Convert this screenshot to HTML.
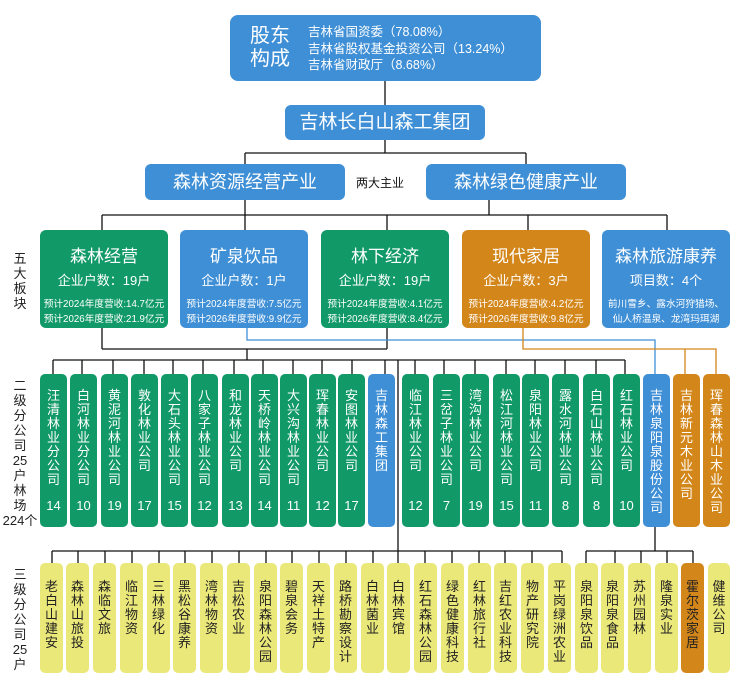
<!DOCTYPE html>
<html><head><meta charset="utf-8"><style>
body{margin:0;background:#fff;}
#c{position:relative;width:730px;height:691px;overflow:hidden;font-family:"Liberation Sans","Noto Sans CJK SC",sans-serif;}
.b{position:absolute;border-radius:6px;color:#fff;box-sizing:border-box;text-align:center;}
.bl{background:#3f8fd6;}.gr{background:#119a68;}.or{background:#d3861a;}.ye{background:#ebe87a;color:#222;}
.v{position:absolute;top:374px;width:27px;height:153px;border-radius:5px;color:#fff;font-size:13px;line-height:14px;text-align:center;}
.v span{display:block;width:14px;margin:15px auto 0;word-break:break-all;}
.v i{position:absolute;left:0;right:0;top:125px;font-style:normal;font-size:13px;}
.y{position:absolute;top:563px;width:23px;height:110px;border-radius:5px;background:#ebe87a;color:#222;font-size:13px;line-height:14px;text-align:center;}
.y span{display:block;width:14px;margin:17px auto 0;word-break:break-all;}
.lab{position:absolute;width:14px;font-size:13px;line-height:15px;color:#222;text-align:center;word-break:break-all;}
.big{font-size:17px;}
.sm{font-size:9.7px;line-height:15px;margin-top:8px;white-space:nowrap;}
svg{position:absolute;left:0;top:0;}
</style></head><body><div id="c">
<svg width="730" height="691" fill="none" stroke-width="1.3">
<g stroke="#111">
<line x1="385" y1="81" x2="385" y2="105"/>
<line x1="385" y1="140" x2="385" y2="153"/>
<line x1="245" y1="153" x2="526" y2="153"/>
<line x1="245" y1="153" x2="245" y2="164"/><line x1="526" y1="153" x2="526" y2="164"/>
<line x1="245" y1="200" x2="245" y2="215"/><line x1="489" y1="200" x2="489" y2="215"/>
<line x1="102" y1="215" x2="667" y2="215"/>
<line x1="102" y1="215" x2="102" y2="230"/><line x1="245" y1="215" x2="245" y2="230"/><line x1="387" y1="215" x2="387" y2="230"/><line x1="528" y1="215" x2="528" y2="230"/><line x1="667" y1="215" x2="667" y2="230"/>
<line x1="102" y1="328" x2="102" y2="349"/><line x1="387" y1="328" x2="387" y2="349"/>
<line x1="102" y1="349" x2="387" y2="349"/>
<line x1="247" y1="349" x2="247" y2="360"/>
<line x1="53" y1="360" x2="625" y2="360"/>
<line x1="53" y1="360" x2="53" y2="374"/><line x1="82" y1="360" x2="82" y2="374"/><line x1="113" y1="360" x2="113" y2="374"/><line x1="144" y1="360" x2="144" y2="374"/><line x1="173" y1="360" x2="173" y2="374"/><line x1="203" y1="360" x2="203" y2="374"/><line x1="234" y1="360" x2="234" y2="374"/><line x1="263" y1="360" x2="263" y2="374"/><line x1="293" y1="360" x2="293" y2="374"/><line x1="322" y1="360" x2="322" y2="374"/><line x1="352" y1="360" x2="352" y2="374"/><line x1="385" y1="360" x2="385" y2="374"/><line x1="415" y1="360" x2="415" y2="374"/><line x1="444" y1="360" x2="444" y2="374"/><line x1="475" y1="360" x2="475" y2="374"/><line x1="506" y1="360" x2="506" y2="374"/><line x1="535" y1="360" x2="535" y2="374"/><line x1="565" y1="360" x2="565" y2="374"/><line x1="596" y1="360" x2="596" y2="374"/><line x1="625" y1="360" x2="625" y2="374"/>
<line x1="398" y1="360" x2="398" y2="551"/>
<line x1="52" y1="551" x2="562" y2="551"/>
<line x1="52" y1="551" x2="52" y2="563"/><line x1="78" y1="551" x2="78" y2="563"/><line x1="105" y1="551" x2="105" y2="563"/><line x1="132" y1="551" x2="132" y2="563"/><line x1="159" y1="551" x2="159" y2="563"/><line x1="185" y1="551" x2="185" y2="563"/><line x1="212" y1="551" x2="212" y2="563"/><line x1="239" y1="551" x2="239" y2="563"/><line x1="266" y1="551" x2="266" y2="563"/><line x1="292" y1="551" x2="292" y2="563"/><line x1="319" y1="551" x2="319" y2="563"/><line x1="346" y1="551" x2="346" y2="563"/><line x1="373" y1="551" x2="373" y2="563"/><line x1="398" y1="551" x2="398" y2="563"/><line x1="425" y1="551" x2="425" y2="563"/><line x1="452" y1="551" x2="452" y2="563"/><line x1="479" y1="551" x2="479" y2="563"/><line x1="505" y1="551" x2="505" y2="563"/><line x1="532" y1="551" x2="532" y2="563"/><line x1="562" y1="551" x2="562" y2="563"/>
<line x1="655" y1="527" x2="655" y2="551"/>
<line x1="586" y1="551" x2="693" y2="551"/>
<line x1="586" y1="551" x2="586" y2="563"/><line x1="615" y1="551" x2="615" y2="563"/><line x1="641" y1="551" x2="641" y2="563"/><line x1="667" y1="551" x2="667" y2="563"/><line x1="693" y1="551" x2="693" y2="563"/>
</g>
<polyline stroke="#3f8fd6" points="247,328 247,340 655,340 655,374"/>
<polyline stroke="#d3861a" points="523,328 523,349 716,349 716,374"/>
<line stroke="#d3861a" x1="685" y1="349" x2="685" y2="374"/>
</svg>

<div class="b bl" style="left:230px;top:15px;width:311px;height:66px;border-radius:8px;">
 <div style="position:absolute;left:18px;top:10px;font-size:20px;line-height:23px;width:44px;">股东<br>构成</div>
 <div style="position:absolute;left:78px;top:9px;font-size:12.5px;line-height:16.5px;text-align:left;white-space:nowrap;">吉林省国资委（78.08%）<br>吉林省股权基金投资公司（13.24%）<br>吉林省财政厅（8.68%）</div>
</div>
<div class="b bl" style="left:285px;top:105px;width:200px;height:35px;font-size:19px;line-height:35px;">吉林长白山森工集团</div>
<div class="b bl" style="left:145px;top:164px;width:200px;height:36px;font-size:18px;line-height:36px;">森林资源经营产业</div>
<div class="b bl" style="left:426px;top:164px;width:200px;height:36px;font-size:18px;line-height:36px;">森林绿色健康产业</div>
<div style="position:absolute;left:356px;top:174px;font-size:12px;color:#111;">两大主业</div>

<div class="b gr" style="left:40px;top:230px;width:128px;height:98px;"><div class="big" style="margin-top:12px;">森林经营</div><div style="font-size:13px;margin-top:3px;">企业户数：19户</div><div class="sm">预计2024年度营收:14.7亿元<br>预计2026年度营收:21.9亿元</div></div>
<div class="b bl" style="left:180px;top:230px;width:128px;height:98px;"><div class="big" style="margin-top:12px;">矿泉饮品</div><div style="font-size:13px;margin-top:3px;">企业户数：1户</div><div class="sm">预计2024年度营收:7.5亿元<br>预计2026年度营收:9.9亿元</div></div>
<div class="b gr" style="left:321px;top:230px;width:128px;height:98px;"><div class="big" style="margin-top:12px;">林下经济</div><div style="font-size:13px;margin-top:3px;">企业户数：19户</div><div class="sm">预计2024年度营收:4.1亿元<br>预计2026年度营收:8.4亿元</div></div>
<div class="b or" style="left:462px;top:230px;width:128px;height:98px;"><div class="big" style="margin-top:12px;">现代家居</div><div style="font-size:13px;margin-top:3px;">企业户数：3户</div><div class="sm">预计2024年度营收:4.2亿元<br>预计2026年度营收:9.8亿元</div></div>
<div class="b bl" style="left:602px;top:230px;width:128px;height:98px;"><div class="big" style="margin-top:12px;">森林旅游康养</div><div style="font-size:13px;margin-top:3px;">项目数：4个</div><div class="sm">前川雪乡、露水河狩猎场、<br>仙人桥温泉、龙湾玛珥湖</div></div>

<div class="lab" style="left:13px;top:251px;">五大板块</div>
<div class="lab" style="left:13px;top:378px;">二级分公司</div>
<div style="position:absolute;left:0;top:453px;width:40px;text-align:center;font-size:13px;line-height:15px;color:#222;">25<br>户<br>林<br>场<br>224个</div>
<div class="lab" style="left:13px;top:567px;">三级分公司</div>
<div style="position:absolute;left:0;top:642px;width:40px;text-align:center;font-size:13px;line-height:15px;color:#222;">25<br>户</div>

<div class="v gr" style="left:40px"><span>汪清林业分公司</span><i>14</i></div>
<div class="v gr" style="left:70px"><span>白河林业分公司</span><i>10</i></div>
<div class="v gr" style="left:101px"><span>黄泥河林业公司</span><i>19</i></div>
<div class="v gr" style="left:131px"><span>敦化林业公司</span><i>17</i></div>
<div class="v gr" style="left:161px"><span>大石头林业公司</span><i>15</i></div>
<div class="v gr" style="left:191px"><span>八家子林业公司</span><i>12</i></div>
<div class="v gr" style="left:222px"><span>和龙林业公司</span><i>13</i></div>
<div class="v gr" style="left:251px"><span>天桥岭林业公司</span><i>14</i></div>
<div class="v gr" style="left:280px"><span>大兴沟林业公司</span><i>11</i></div>
<div class="v gr" style="left:309px"><span>珲春林业公司</span><i>12</i></div>
<div class="v gr" style="left:338px"><span>安图林业公司</span><i>17</i></div>
<div class="v bl" style="left:368px"><span>吉林森工集团</span></div>
<div class="v gr" style="left:402px"><span>临江林业公司</span><i>12</i></div>
<div class="v gr" style="left:433px"><span>三岔子林业公司</span><i>7</i></div>
<div class="v gr" style="left:462px"><span>湾沟林业公司</span><i>19</i></div>
<div class="v gr" style="left:493px"><span>松江河林业公司</span><i>15</i></div>
<div class="v gr" style="left:522px"><span>泉阳林业公司</span><i>11</i></div>
<div class="v gr" style="left:552px"><span>露水河林业公司</span><i>8</i></div>
<div class="v gr" style="left:583px"><span>白石山林业公司</span><i>8</i></div>
<div class="v gr" style="left:613px"><span>红石林业公司</span><i>10</i></div>
<div class="v bl" style="left:643px"><span>吉林泉阳泉股份公司</span></div>
<div class="v or" style="left:673px"><span>吉林新元木业公司</span></div>
<div class="v or" style="left:703px"><span>珲春森林山木业公司</span></div>

<div class="y" style="left:40px"><span>老白山建安</span></div>
<div class="y" style="left:66px"><span>森林山旅投</span></div>
<div class="y" style="left:93px"><span>森临文旅</span></div>
<div class="y" style="left:120px"><span>临江物资</span></div>
<div class="y" style="left:147px"><span>三林绿化</span></div>
<div class="y" style="left:173px"><span>黑松谷康养</span></div>
<div class="y" style="left:200px"><span>湾林物资</span></div>
<div class="y" style="left:227px"><span>吉松农业</span></div>
<div class="y" style="left:254px"><span>泉阳森林公园</span></div>
<div class="y" style="left:280px"><span>碧泉会务</span></div>
<div class="y" style="left:307px"><span>天祥土特产</span></div>
<div class="y" style="left:334px"><span>路桥勘察设计</span></div>
<div class="y" style="left:361px"><span>白林菌业</span></div>
<div class="y" style="left:387px"><span>白林宾馆</span></div>
<div class="y" style="left:414px"><span>红石森林公园</span></div>
<div class="y" style="left:441px"><span>绿色健康科技</span></div>
<div class="y" style="left:468px"><span>红林旅行社</span></div>
<div class="y" style="left:494px"><span>吉红农业科技</span></div>
<div class="y" style="left:521px"><span>物产研究院</span></div>
<div class="y" style="left:548px"><span>平岗绿洲农业</span></div>
<div class="y" style="left:575px"><span>泉阳泉饮品</span></div>
<div class="y" style="left:601px"><span>泉阳泉食品</span></div>
<div class="y" style="left:628px"><span>苏州园林</span></div>
<div class="y" style="left:655px"><span>隆泉实业</span></div>
<div class="y" style="left:681px;background:#d3861a;"><span>霍尔茨家居</span></div>
<div class="y" style="left:708px;width:22px;"><span>健维公司</span></div>
</div></body></html>
